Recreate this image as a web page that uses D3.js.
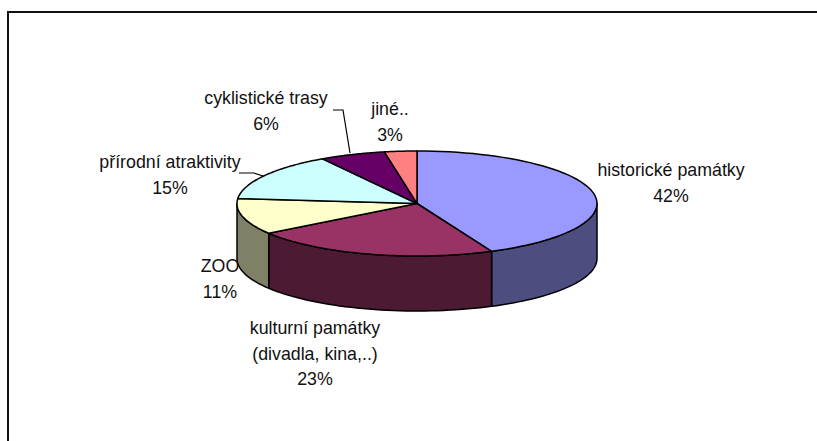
<!DOCTYPE html>
<html><head><meta charset="utf-8">
<script src="https://cdn.jsdelivr.net/npm/d3@7"></script>
<style>html,body{margin:0;background:#fff}svg{display:block}text{font-family:"Liberation Sans",Arial,sans-serif;font-size:17.8px;fill:#111}</style>
</head><body><svg id="c" width="817" height="441"></svg>
<script>
const categories = ["historické památky","kulturní památky (divadla, kina,..)","ZOO","přírodní atraktivity","cyklistické trasy","jiné.."];
const values = [42.4,23,11.1,14.7,5.9,2.9];
const topColors = ["#9999FF","#993366","#FFFFCC","#CCFFFF","#660066","#FF8080"];
const sideColors = ["#4D4D80","#4C1A33","#808066","#668080","#330033","#804040"];
const labelLines = [["historické památky","42%"],["kulturní památky","(divadla, kina,..)","23%"],["ZOO","11%"],["přírodní atraktivity","15%"],["cyklistické trasy","6%"],["jiné..","3%"]];
const labelAnchors = [[671,176],[315,334],[220,272],[170,168],[266,104],[390,115]];
const leaderLines = [null,null,null,[[239,173],[254,173],[263,176]],[[333,110],[343,110],[350,153]],null];

const svg = d3.select("#c");
const cx=417, cy=203.5, rx=180, ry=52.5, depth=55;
const x = d3.scaleLinear().domain([-1,1]).range([cx-rx,cx+rx]);
const y = d3.scaleLinear().domain([-1,1]).range([cy-ry,cy+ry]);
// the source's 3D view slightly widens the angle of the first slice
const tau = 2*Math.PI;
const view = d3.scaleLinear().domain([0,0.424,0.654,1].map(f=>f*tau)).range([0,0.432,0.654,1].map(f=>f*tau));
const arcs = d3.pie().sort(null).value(d=>d)(values);
const px = a => x(Math.sin(view(a))), py = a => y(-Math.cos(view(a)));
const line = d3.line().x(d=>d[0]).y(d=>d[1]);

// frame: only the top and left edges fall inside the picture
svg.append("path").attr("d","M8,441V12H817").attr("fill","none").attr("stroke","#111").attr("stroke-width",2);

// side walls of the front half
const frontStart = view.invert(Math.PI/2), frontEnd = view.invert(3*Math.PI/2);
arcs.forEach((a,i)=>{
  const s=Math.max(a.startAngle,frontStart), e=Math.min(a.endAngle,frontEnd);
  if(e<=s) return;
  const angs=d3.range(0,41).map(k=>s+(e-s)*k/40);
  const up=angs.map(t=>[px(t),py(t)]);
  const down=angs.slice().reverse().map(t=>[px(t),py(t)+depth]);
  svg.append("path").attr("d",line(up.concat(down))+"Z").attr("fill",sideColors[i]).attr("stroke","#000").attr("stroke-width",1.5).attr("stroke-linejoin","round");
});

// top face
arcs.forEach((a,i)=>{
  const angs=d3.range(0,61).map(k=>a.startAngle+(a.endAngle-a.startAngle)*k/60);
  const pts=[[x(0),y(0)]].concat(angs.map(t=>[px(t),py(t)]));
  svg.append("path").attr("d",line(pts)+"Z").attr("fill",topColors[i]).attr("stroke","#000").attr("stroke-width",1.5).attr("stroke-linejoin","round");
});

// leader lines
leaderLines.forEach(l=>{ if(l) svg.append("path").attr("d",line(l)).attr("fill","none").attr("stroke","#000").attr("stroke-width",1.2); });

// labels
labelLines.forEach((ls,i)=>{
  const t=svg.append("text").attr("text-anchor","middle");
  ls.forEach((s,k)=>t.append("tspan").attr("x",labelAnchors[i][0]).attr("y",labelAnchors[i][1]+k*25.6).text(s));
});
</script></body></html>
